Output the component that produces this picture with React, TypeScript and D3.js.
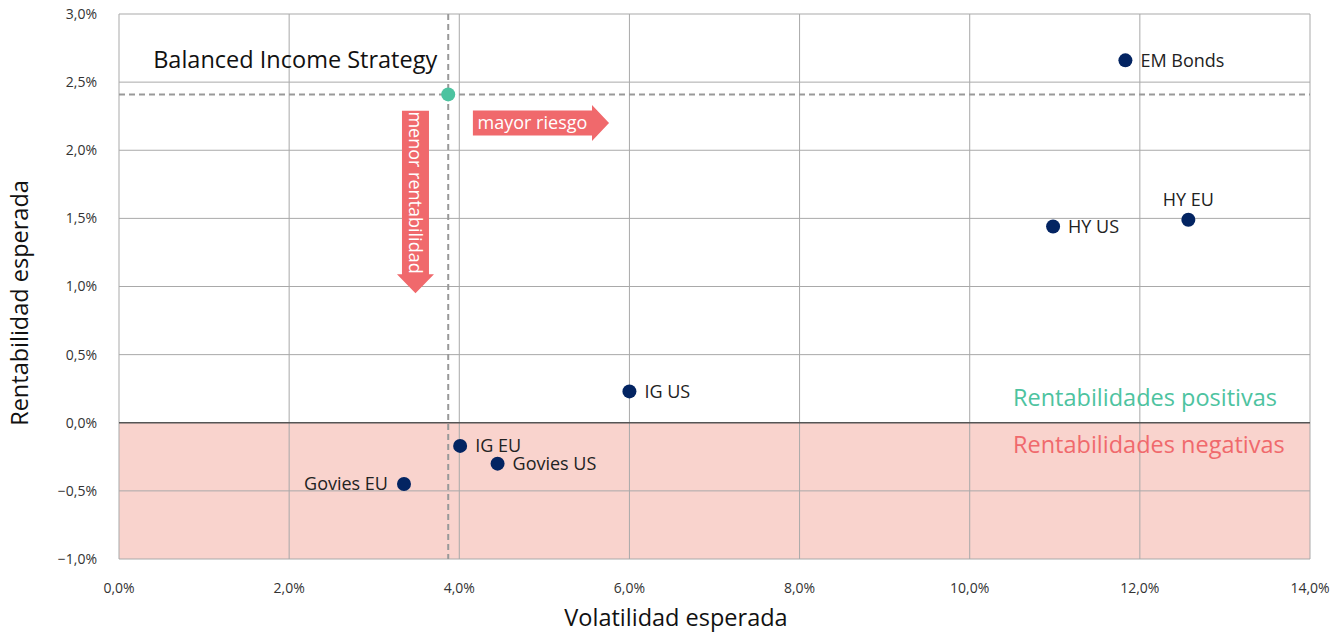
import React from 'react';
import * as d3 from 'd3';

const names = ["EM Bonds", "HY EU", "HY US", "IG US", "IG EU", "Govies US", "Govies EU"];
const volatility = [11.83, 12.57, 10.98, 6.0, 4.01, 4.45, 3.35];
const returns = [2.66, 1.49, 1.44, 0.23, -0.17, -0.3, -0.45];
const labelSide = ["right", "top", "right", "right", "right", "right", "left"];

const strategyName = "Balanced Income Strategy";
const strategyVol = 3.87;
const strategyRet = 2.41;

const xTicks = [0, 2, 4, 6, 8, 10, 12, 14];
const yTicks = [-1, -0.5, 0, 0.5, 1, 1.5, 2, 2.5, 3];

const width = 1341;
const height = 635;
const margin = { top: 14, right: 31, bottom: 76, left: 119 };

const FONT = "'Open Sans', 'Noto Sans', sans-serif";
const NAVY = "#032462";
const TEAL = "#4dc3a0";
const RED = "#f0696c";
const PINK = "#f9d3cd";
const GRID = "#a9a9a9";

const x = d3.scaleLinear().domain([0, 14]).range([margin.left, width - margin.right]);
const y = d3.scaleLinear().domain([-1, 3]).range([height - margin.bottom, margin.top]);

const fmt = (v: number) => d3.format(".1f")(v).replace(".", ",") + "%";

// annotation arrows, in data units
const riskArrow = { x0: 4.16, x1: 5.76, y: 2.2 };
const retArrow = { x: 3.485, y0: 2.29, y1: 0.95 };

function App() {
  const data = names.map((n, i) => ({ name: n, vol: volatility[i], ret: returns[i], side: labelSide[i] }));

  const rx0 = x(riskArrow.x0), rx1 = x(riskArrow.x1), ry = y(riskArrow.y);
  const headW = 17;
  const riskPath = d3.path();
  riskPath.moveTo(rx0, ry - 12.5);
  riskPath.lineTo(rx1 - headW, ry - 12.5);
  riskPath.lineTo(rx1 - headW, ry - 18);
  riskPath.lineTo(rx1, ry);
  riskPath.lineTo(rx1 - headW, ry + 18);
  riskPath.lineTo(rx1 - headW, ry + 12.5);
  riskPath.lineTo(rx0, ry + 12.5);
  riskPath.closePath();

  const dx = x(retArrow.x), dy0 = y(retArrow.y0), dy1 = y(retArrow.y1);
  const retPath = d3.path();
  retPath.moveTo(dx - 13.5, dy0);
  retPath.lineTo(dx + 13.5, dy0);
  retPath.lineTo(dx + 13.5, dy1 - 19);
  retPath.lineTo(dx + 18.5, dy1 - 19);
  retPath.lineTo(dx, dy1);
  retPath.lineTo(dx - 18.5, dy1 - 19);
  retPath.lineTo(dx - 13.5, dy1 - 19);
  retPath.closePath();

  return (
    <div style={{ position: "absolute", left: 0, top: 0 }}>
      <svg width={width} height={height} style={{ display: "block", fontFamily: FONT }}>
        <rect x={0} y={0} width={width} height={height} fill="#fff" />
        {/* negative zone */}
        <rect x={x(0)} y={y(0)} width={x(14) - x(0)} height={y(-1) - y(0)} fill={PINK} />

        {/* grid */}
        {xTicks.map(t => (
          <line key={"gx" + t} x1={x(t)} x2={x(t)} y1={y(3)} y2={y(-1)} stroke={GRID} strokeWidth={1} />
        ))}
        {yTicks.map(t => (
          <line key={"gy" + t} x1={x(0)} x2={x(14)} y1={y(t)} y2={y(t)}
            stroke={t === 0 ? "#555" : GRID} strokeWidth={t === 0 ? 1.3 : 1} />
        ))}

        {/* tick labels */}
        {yTicks.map(t => (
          <text key={"ty" + t} x={x(0) - 22} y={y(t)} dy="0.35em" textAnchor="end"
            fontSize={14} fill="#333">{fmt(t)}</text>
        ))}
        {xTicks.map(t => (
          <text key={"tx" + t} x={x(t)} y={y(-1) + 34} textAnchor="middle"
            fontSize={14} fill="#333">{fmt(t)}</text>
        ))}

        {/* axis titles */}
        <text transform={`translate(28,303) rotate(-90)`} textAnchor="middle"
          fontSize={23.5} fill="#111">Rentabilidad esperada</text>
        <text x={676} y={626} textAnchor="middle" fontSize={23.5} fill="#111">Volatilidad esperada</text>

        {/* strategy reference lines */}
        <line x1={x(0)} x2={x(14)} y1={y(strategyRet)} y2={y(strategyRet)}
          stroke="#999" strokeWidth={2} strokeDasharray="6,4" />
        <line x1={x(strategyVol)} x2={x(strategyVol)} y1={y(3)} y2={y(-1)}
          stroke="#999" strokeWidth={2} strokeDasharray="6,4" />
        <circle cx={x(strategyVol)} cy={y(strategyRet)} r={7} fill={TEAL} />
        <text x={x(strategyVol) - 11} y={y(strategyRet) - 26} textAnchor="end" fontSize={23.5} fill="#111">
          {strategyName}
        </text>

        {/* arrows */}
        <path d={riskPath.toString()} fill={RED} />
        <text x={(rx0 + rx1 - headW) / 2} y={ry} dy="0.35em" textAnchor="middle" fontSize={18} fill="#fff">
          mayor riesgo
        </text>
        <path d={retPath.toString()} fill={RED} />
        <text transform={`translate(${dx},${(dy0 + dy1 - 19) / 2}) rotate(90)`} dy="0.35em" textAnchor="middle"
          fontSize={18} fill="#fff">menor rentabilidad</text>

        {/* zone labels */}
        <text x={1013} y={y(0) - 17} fontSize={23.5} fill={TEAL}>Rentabilidades positivas</text>
        <text x={1013} y={y(0) + 30} fontSize={23.5} fill={RED}>Rentabilidades negativas</text>

        {/* points */}
        {data.map(d => (
          <g key={d.name}>
            <circle cx={x(d.vol)} cy={y(d.ret)} r={7} fill={NAVY} />
            {d.side === "right" && (
              <text x={x(d.vol) + 15} y={y(d.ret)} dy="0.35em" fontSize={18} fill="#222">{d.name}</text>
            )}
            {d.side === "left" && (
              <text x={x(d.vol) - 16} y={y(d.ret)} dy="0.35em" textAnchor="end" fontSize={18} fill="#222">{d.name}</text>
            )}
            {d.side === "top" && (
              <text x={x(d.vol)} y={y(d.ret) - 14} textAnchor="middle" fontSize={18} fill="#222">{d.name}</text>
            )}
          </g>
        ))}
      </svg>
    </div>
  );
}

export default App;
